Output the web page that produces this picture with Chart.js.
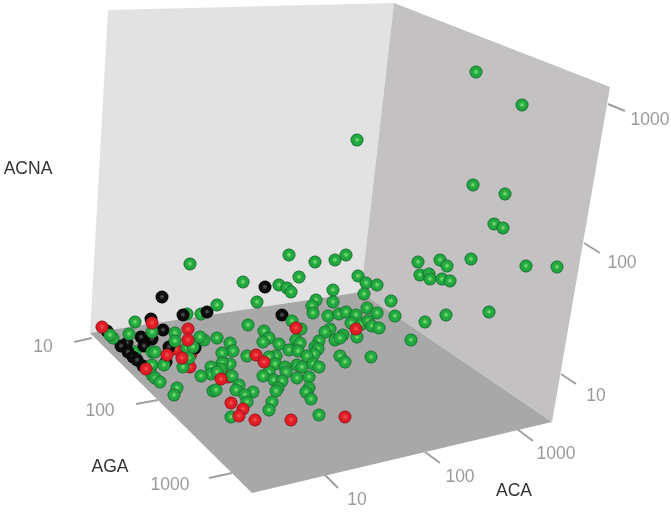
<!DOCTYPE html>
<html lang="en">
<head>
<meta charset="UTF-8">
<title>ACA / AGA / ACNA</title>
<script src="https://cdn.jsdelivr.net/npm/chart.js@4/dist/chart.umd.min.js"></script>
<style>
  html, body { margin: 0; padding: 0; background: #fff; }
  canvas { display: block; }
</style>
</head>
<body>
<canvas id="chart" width="671" height="513"></canvas>
<script>
// The picture is a 3D box seen in perspective, so values are read as projected
// positions on a flat plane (both scales run across the picture).
const greenX = [476,522,357,473,505,494,503,418,440,447,471,526,557,420,429,430,442,450,446,489,425,411,
  289,315,335,346,243,279,299,287,291,257,217,333,358,366,377,364,316,312,333,313,328,339,346,356,367,377,391,395,
  351,362,368,372,379,330,325,343,335,340,357,292,301,248,264,269,263,279,217,204,200,230,233,222,296,300,319,315,318,
  289,298,314,307,340,345,371,247,276,269,275,297,302,313,319,285,286,230,222,221,211,211,232,201,269,263,274,282,297,309,
  239,236,253,245,247,213,216,278,276,309,306,311,272,269,231,319,
  190,135,129,152,175,175,152,155,193,152,164,183,189,177,174,113,110,152,155,160,217];
const greenY = [72,105,140,185,194,224,228,262,260,266,259,266,267,275,274,279,279,281,315,312,322,340,
  255,262,260,255,282,285,277,288,292,302,305,290,276,283,285,294,300,306,302,313,316,314,312,315,308,313,301,316,
  323,324,321,326,328,329,332,335,340,338,337,321,329,325,331,338,342,344,338,340,337,343,351,353,340,343,341,347,349,
  350,351,354,356,356,362,357,356,356,357,364,365,367,364,367,367,372,364,363,369,367,374,376,376,372,376,380,381,378,377,
  385,390,392,395,402,391,390,388,391,388,392,399,402,410,417,415,
  264,322,334,332,333,341,352,352,347,365,365,367,358,388,395,338,335,375,378,382,372];
const greenRearX = [187,201,135,187];
const greenRearY = [314,314,352,348];
const blackX = [265,207,282,162,183,151,163,141,152,127,121,144,169,195,128,133,137,143,166,107];
const blackY = [287,312,315,297,315,319,330,337,339,343,346,346,347,348,352,357,360,366,362,331];
const redX = [296,356,256,264,221,231,243,239,255,291,345,102,152,188,188,167,182,146];
const redY = [328,329,355,362,379,403,409,416,420,420,417,327,323,329,340,355,358,369];
const redRearX = [228,176,191,190];
const redRearY = [377,349,354,367];

const axisTickLabels = ['10', '100', '1000'];
const axisTitles = ['ACNA', 'AGA', 'ACA'];

function pts(xs, ys) { return xs.map((x, i) => ({ x, y: ys[i] })); }

function makeSphere(rim, mid, glow) {
  const size = 14, c = document.createElement('canvas');
  c.width = c.height = size;
  const g = c.getContext('2d');
  const grad = g.createRadialGradient(7, 6.7, 0.5, 7, 7, 6.5);
  grad.addColorStop(0, glow);
  grad.addColorStop(0.42, mid);
  grad.addColorStop(0.76, mid);
  grad.addColorStop(1, rim);
  g.fillStyle = grad;
  g.beginPath();
  g.arc(7, 7, 6.5, 0, Math.PI * 2);
  g.fill();
  return c;
}

const greenBall = makeSphere('#14602a', '#22a63f', '#6fdc6c');
const redBall = makeSphere('#7a161a', '#e01d26', '#f0504c');
const blackBall = makeSphere('#050505', '#0a0a0a', '#505050');

function balls(xs, ys, img) {
  return { data: pts(xs, ys), showLine: false, pointStyle: img, pointRadius: 6.5 };
}

function panel(corners, color) {
  return {
    data: corners.concat(corners[0]),
    showLine: true, tension: 0, borderWidth: 0, pointRadius: 0,
    fill: 'shape', backgroundColor: color, borderColor: color,
  };
}

const leftWall = [{x:108,y:10},{x:394,y:3},{x:361,y:292},{x:90,y:333}];
const rightWall = [{x:394,y:3},{x:610,y:87},{x:552,y:422},{x:361,y:292}];
const floor = [{x:90,y:333},{x:361,y:292},{x:552,y:422},{x:252,y:493}];

const tickSegments = [
  [74,342,92,338], [136,404,158,400], [209,478,232,473],
  [325,475,338,488], [425,452,440,463], [517,429,533,441],
  [561,374,576,384], [584,243,600,253], [608,104,625,111],
];
const tickLine = [];
tickSegments.forEach(s => {
  tickLine.push({x:s[0],y:s[1]}, {x:s[2],y:s[3]}, {x:null,y:null});
});

const labelPlacement = [
  { text: axisTickLabels[0], x: 43, y: 347 }, { text: axisTickLabels[1], x: 100, y: 411 }, { text: axisTickLabels[2], x: 170, y: 485 },
  { text: axisTickLabels[0], x: 357, y: 500 }, { text: axisTickLabels[1], x: 460, y: 477 }, { text: axisTickLabels[2], x: 556, y: 454 },
  { text: axisTickLabels[0], x: 596, y: 396 }, { text: axisTickLabels[1], x: 622, y: 263 }, { text: axisTickLabels[2], x: 650, y: 120 },
];
const titlePlacement = [
  { text: axisTitles[0], x: 28, y: 169 }, { text: axisTitles[1], x: 110, y: 467 }, { text: axisTitles[2], x: 514, y: 491 },
];

const boxLabels = {
  id: 'boxLabels',
  afterDraw(chart) {
    const { ctx, scales } = chart;
    ctx.save();
    ctx.textAlign = 'center';
    ctx.textBaseline = 'middle';
    ctx.font = '17.5px "Liberation Sans", Arial, sans-serif';
    ctx.fillStyle = '#9a9a9a';
    labelPlacement.forEach(l => ctx.fillText(l.text, scales.x.getPixelForValue(l.x), scales.y.getPixelForValue(l.y)));
    ctx.fillStyle = '#333333';
    titlePlacement.forEach(l => ctx.fillText(l.text, scales.x.getPixelForValue(l.x), scales.y.getPixelForValue(l.y)));
    ctx.restore();
  },
};

new Chart(document.getElementById('chart'), {
  type: 'scatter',
  data: {
    // first entry is drawn on top
    datasets: [
      balls(redX, redY, redBall),
      balls(greenX, greenY, greenBall),
      balls(blackX, blackY, blackBall),
      balls(greenRearX, greenRearY, greenBall),
      balls(redRearX, redRearY, redBall),
      { data: tickLine, showLine: true, spanGaps: false, borderColor: '#a0a0a0', borderWidth: 2, pointRadius: 0 },
      panel(floor, '#a9a8a8'),
      panel(rightWall, '#c3c1c2'),
      panel(leftWall, '#e3e2e2'),
    ],
  },
  options: {
    responsive: false,
    animation: false,
    events: [],
    layout: { padding: 0, autoPadding: false },
    plugins: { legend: { display: false }, tooltip: { enabled: false } },
    scales: {
      x: { type: 'linear', min: 0, max: 671, display: false },
      y: { type: 'linear', min: 0, max: 513, reverse: true, display: false },
    },
  },
  plugins: [boxLabels],
});
</script>
</body>
</html>
